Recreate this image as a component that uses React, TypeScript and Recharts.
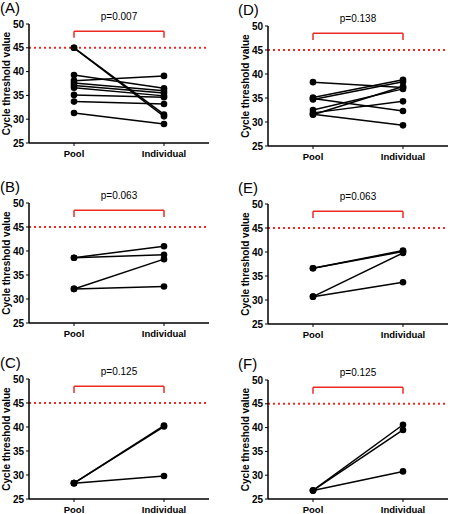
import { Label, Line, LineChart, ReferenceLine, XAxis, YAxis } from 'recharts'

const categories = ['Pool', 'Individual']
const yTicks = [25, 30, 35, 40, 45, 50]
const cutoff = 45

const poolA = [45, 45, 39.3, 38.1, 37.6, 37.1, 36.6, 35.1, 33.7, 31.3]
const indA = [31.0, 30.6, 36.5, 39.1, 36.0, 35.5, 34.9, 34.6, 33.2, 29.0]
const poolB = [38.6, 38.6, 32.1, 32.1]
const indB = [41.0, 39.2, 38.3, 32.6]
const poolC = [28.3, 28.3, 28.3]
const indC = [40.3, 40.1, 29.8]
const poolD = [38.3, 35.1, 34.9, 34.7, 32.5, 31.9, 31.6, 31.5]
const indD = [37.2, 38.8, 32.3, 38.4, 36.9, 34.3, 29.3, 37.4]
const poolE = [36.6, 36.6, 30.7, 30.7]
const indE = [40.3, 40.1, 39.8, 33.7]
const poolF = [26.8, 26.8, 26.8]
const indF = [40.6, 39.5, 30.8]

const FONT = '"Liberation Sans", Arial, sans-serif'
const RED = '#ee2a24'

interface PanelProps {
  tag: string
  p: string
  pool: number[]
  ind: number[]
  left: number
  top: number
  plotTop: number
  plotBottom: number
  axisX: number
  axisEnd: number
  labelX: number
  tagX: number
  xDomain: [number, number]
}

function Panel({ tag, p, pool, ind, left, top, plotTop, plotBottom, axisX, axisEnd, labelX, tagX, xDomain }: PanelProps) {
  const W = 225
  const H = 174
  const rows = [0, 1].map((x) => {
    const row: Record<string, number> = { x }
    pool.forEach((v, i) => {
      row[`s${i}`] = x === 0 ? v : ind[i]
    })
    return row
  })
  const pxPerUnit = (axisEnd - axisX) / (xDomain[1] - xDomain[0])
  const poolX = axisX + (0 - xDomain[0]) * pxPerUnit
  const indX = axisX + (1 - xDomain[0]) * pxPerUnit
  return (
    <div style={{ position: 'absolute', left, top, width: W, height: H }}>
      <div style={{ position: 'absolute', left: tagX, top: plotTop - 24, fontSize: 15, fontFamily: FONT, lineHeight: '16px', color: '#000' }}>
        ({tag})
      </div>
      <div
        style={{
          position: 'absolute',
          left: (poolX + indX) / 2 - 40,
          width: 80,
          textAlign: 'center',
          top: plotTop - 14,
          fontSize: 10,
          fontFamily: FONT,
          lineHeight: '13px',
          color: '#000',
        }}
      >
        {p}
      </div>
      <LineChart
        width={W}
        height={H}
        data={rows}
        margin={{ top: plotTop, right: W - axisEnd, left: 0, bottom: H - plotBottom - 20 }}
        style={{ fontFamily: FONT }}
      >
        <XAxis
          dataKey="x"
          type="number"
          domain={xDomain}
          ticks={[0, 1]}
          allowDataOverflow
          height={20}
          tickFormatter={(v: number) => categories[v]}
          tick={{ fill: '#000', fontSize: 9.5, fontWeight: 700 }}
          axisLine={{ stroke: '#000', strokeWidth: 1.5 }}
          tickLine={{ stroke: '#000' }}
          tickSize={3}
          tickMargin={4}
        />
        <YAxis
          domain={[25, 50]}
          ticks={yTicks}
          width={axisX}
          allowDataOverflow
          tick={{ fill: '#000', fontSize: 10, fontWeight: 700 }}
          axisLine={{ stroke: '#000', strokeWidth: 1.5 }}
          tickLine={{ stroke: '#000' }}
          tickSize={3}
          tickMargin={2}
        >
          <Label
            value="Cycle threshold value"
            angle={-90}
            position="insideLeft"
            offset={labelX}
            style={{ textAnchor: 'middle', fontSize: 10, fontWeight: 700, fill: '#000' }}
          />
        </YAxis>
        <ReferenceLine y={cutoff} stroke={RED} strokeWidth={2} strokeDasharray="2 3" />
        <ReferenceLine segment={[{ x: 0, y: 48.5 }, { x: 1, y: 48.5 }]} stroke={RED} strokeWidth={1.5} />
        <ReferenceLine segment={[{ x: 0, y: 48.5 }, { x: 0, y: 47.1 }]} stroke={RED} strokeWidth={1.5} />
        <ReferenceLine segment={[{ x: 1, y: 48.5 }, { x: 1, y: 47.1 }]} stroke={RED} strokeWidth={1.5} />
        {pool.map((_, i) => (
          <Line
            key={i}
            dataKey={`s${i}`}
            stroke="#000"
            strokeWidth={1.5}
            dot={{ r: 3.3, fill: '#000', stroke: '#000', strokeWidth: 0 }}
            isAnimationActive={false}
          />
        ))}
      </LineChart>
    </div>
  )
}

const xDomain: [number, number] = [-0.5, 1.5]

export default function App() {
  return (
    <div style={{ position: 'absolute', left: 0, top: 0, width: 450, height: 514, background: '#fff', overflow: 'hidden' }}>
      <Panel tag="A" p="p=0.007" pool={poolA} ind={indA} left={0} top={0} plotTop={24} plotBottom={143} axisX={29} axisEnd={209} labelX={6} tagX={0} xDomain={xDomain} />
      <Panel tag="B" p="p=0.063" pool={poolB} ind={indB} left={0} top={170} plotTop={33} plotBottom={153} axisX={29} axisEnd={209} labelX={6} tagX={0} xDomain={xDomain} />
      <Panel tag="C" p="p=0.125" pool={poolC} ind={indC} left={0} top={340} plotTop={39} plotBottom={159} axisX={29} axisEnd={209} labelX={6} tagX={0} xDomain={xDomain} />
      <Panel tag="D" p="p=0.138" pool={poolD} ind={indD} left={225} top={0} plotTop={26} plotBottom={146} axisX={43} axisEnd={223} labelX={20} tagX={13} xDomain={xDomain} />
      <Panel tag="E" p="p=0.063" pool={poolE} ind={indE} left={225} top={170} plotTop={34} plotBottom={154} axisX={43} axisEnd={223} labelX={20} tagX={13} xDomain={xDomain} />
      <Panel tag="F" p="p=0.125" pool={poolF} ind={indF} left={225} top={340} plotTop={40} plotBottom={159} axisX={43} axisEnd={223} labelX={20} tagX={13} xDomain={xDomain} />
    </div>
  )
}
